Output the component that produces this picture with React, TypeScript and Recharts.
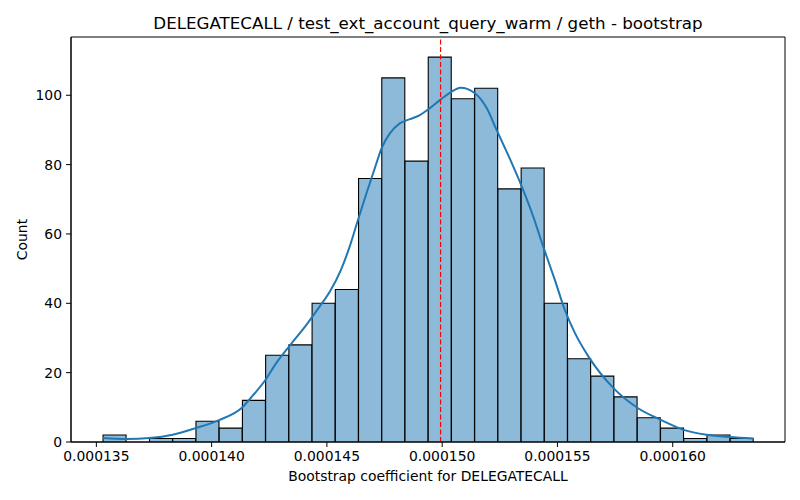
import { ComposedChart, Bar, Line, XAxis, YAxis, ReferenceLine, ReferenceArea, Label } from 'recharts';

// x values are in units of 1e-6
const binCenters = [
  135.794, 136.801, 137.809, 138.816, 139.824, 140.831, 141.839, 142.846, 143.854, 144.861,
  145.869, 146.876, 147.884, 148.891, 149.899, 150.906, 151.914, 152.921, 153.929, 154.936,
  155.944, 156.951, 157.959, 158.966, 159.974, 160.981, 161.989, 162.996,
];
const counts = [2, 0, 1, 1, 6, 4, 12, 25, 28, 40, 44, 76, 105, 81, 111, 99, 102, 73, 79, 40, 24, 19, 13, 7, 4, 1, 2, 1];

const kdeX = [
  135.29, 136.3, 137.31, 138.31, 139.31, 140.35, 141.3, 141.8, 142.3, 142.81, 143.39, 144.11,
  144.69, 145.13, 145.6, 145.99, 146.35, 146.72, 147.08, 147.37, 147.73, 148.16, 148.6, 149.03,
  149.47, 149.9, 150.33, 150.8, 151.42, 151.93, 152.36, 152.86, 153.45, 153.95, 154.38, 154.89,
  155.32, 155.76, 156.34, 157.42, 158.48, 159.48, 160.48, 161.46, 162.46, 163.5,
];
const kdeY = [
  1.15, 0.86, 1.15, 2.1, 4.0, 6.4, 9.8, 13.5, 17.6, 22.8, 27.8, 33.8,
  39.1, 43.4, 49.5, 56.4, 64.1, 71.8, 79.0, 84.7, 89.0, 91.9, 93.1, 94.3,
  96.3, 98.6, 100.7, 102.2, 100.6, 96.3, 90.0, 82.8, 73.7, 65.0, 56.4, 46.7,
  38.1, 31.4, 24.7, 15.6, 9.8, 6.4, 3.5, 2.1, 1.44, 1.04,
];

const xTicks = [135, 140, 145, 150, 155, 160];
const yTicks = [0, 20, 40, 60, 80, 100];
const xDomain = [133.9, 164.87];
const yDomain = [0, 116.8];
const meanValue = 149.93;

const histData = binCenters.map((x, i) => ({ x, count: counts[i] }));
const kdeData = kdeX.map((x, i) => ({ x, density: kdeY[i] }));

const FONT = 'DejaVu Sans';

export default function App() {
  return (
    <div style={{ position: 'absolute', left: 0, top: 0, width: 800, height: 500, background: '#fff', fontFamily: FONT }}>
      <div style={{ position: 'absolute', top: 13, left: 71, width: 714, textAlign: 'center', fontSize: 16.7, color: '#000', lineHeight: 'normal' }}>
        DELEGATECALL / test_ext_account_query_warm / geth - bootstrap
      </div>
      <ComposedChart
        width={800}
        height={500}
        data={histData}
        margin={{ top: 37, right: 15, bottom: 0, left: 0 }}
        barCategoryGap={0}
        barGap={0}
      >
        <XAxis
          xAxisId="hist"
          dataKey="x"
          type="number"
          domain={xDomain}
          allowDataOverflow
          ticks={xTicks}
          interval={0}
          height={58}
          tickSize={5}
          tickMargin={4}
          stroke="#000"
          tick={{ fill: '#000', fontSize: 13.9, fontFamily: FONT }}
          tickFormatter={(v: number) => (v / 1e6).toFixed(6)}
        >
          <Label
            content={({ viewBox }: any) => (
              <text x={viewBox.x + viewBox.width / 2} y={481} textAnchor="middle" fontSize={13.9} fontFamily={FONT} fill="#000">
                Bootstrap coefficient for DELEGATECALL
              </text>
            )}
          />
        </XAxis>
        <XAxis xAxisId="kde" dataKey="x" type="number" domain={xDomain} allowDataOverflow hide />
        <YAxis
          type="number"
          domain={yDomain}
          allowDataOverflow
          ticks={yTicks}
          interval={0}
          width={71}
          tickSize={5}
          tickMargin={4}
          stroke="#000"
          tick={{ fill: '#000', fontSize: 13.9, fontFamily: FONT }}
        >
          <Label
            content={({ viewBox }: any) => {
              const cy = viewBox.y + viewBox.height / 2;
              return (
                <text x={26.5} y={cy} transform={`rotate(-90, 26.5, ${cy})`} textAnchor="middle" fontSize={13.9} fontFamily={FONT} fill="#000">
                  Count
                </text>
              );
            }}
          />
        </YAxis>
        <Bar xAxisId="hist" dataKey="count" fill="#8ebad9" stroke="#000" strokeWidth={1.1} isAnimationActive={false} />
        <Line
          xAxisId="kde"
          data={kdeData}
          dataKey="density"
          type="monotone"
          stroke="#1f77b4"
          strokeWidth={2}
          dot={false}
          activeDot={false}
          isAnimationActive={false}
        />
        <ReferenceLine xAxisId="hist" x={meanValue} stroke="#ff0000" strokeWidth={1.2} strokeDasharray="5 2.5" />
        <ReferenceArea
          xAxisId="hist"
          x1={xDomain[0]}
          x2={xDomain[1]}
          y1={yDomain[0]}
          y2={yDomain[1]}
          fill="none"
          stroke="#000"
          strokeWidth={1}
        />
      </ComposedChart>
    </div>
  );
}
